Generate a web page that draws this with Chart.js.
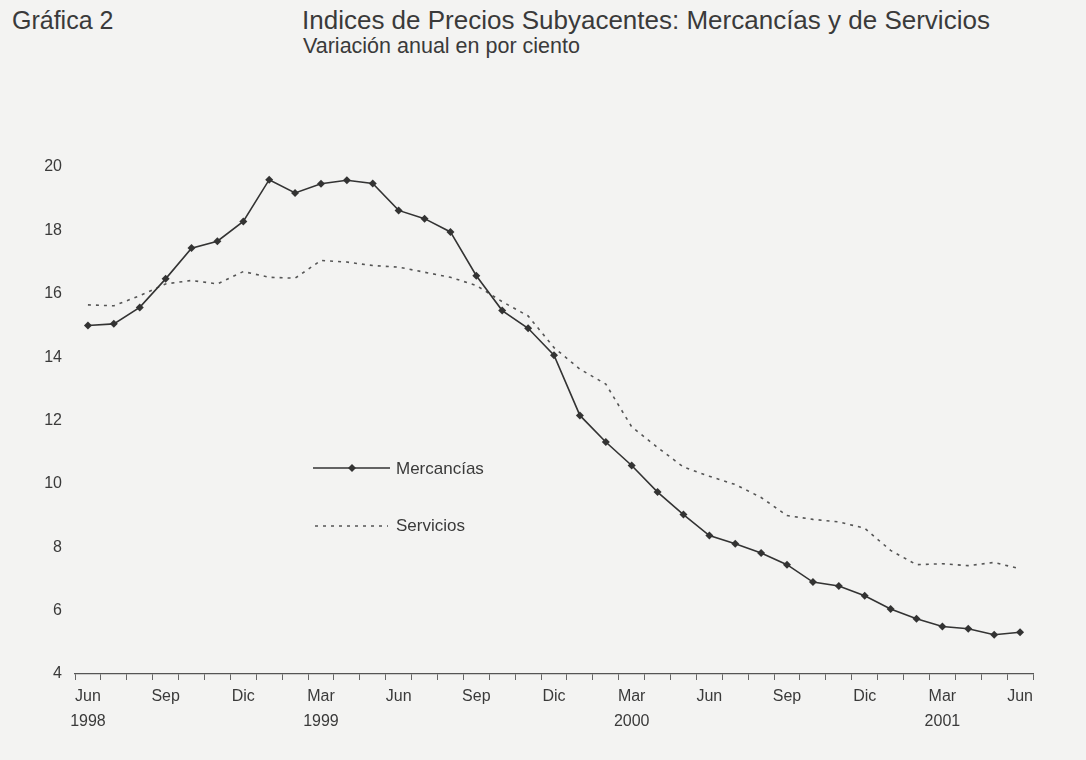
<!DOCTYPE html>
<html>
<head>
<meta charset="utf-8">
<script src="https://cdn.jsdelivr.net/npm/chart.js@4.4.1/dist/chart.umd.min.js"></script>
<style>
  html, body { margin: 0; padding: 0; background: #f3f3f2; }
  #wrap { position: relative; width: 1086px; height: 760px; overflow: hidden; background: #f3f3f2; }
  canvas { position: absolute; left: 0; top: 0; }
  .t { position: absolute; white-space: nowrap; color: #3a3a3a; font-family: "Liberation Sans", Arial, sans-serif; line-height: 1; }
</style>
</head>
<body>
<div id="wrap">
  <div class="t" id="g2" style="left:12px; top:8px; font-size:25px;">Gráfica 2</div>
  <div class="t" id="tt" style="left:302px; top:7px; font-size:26px;">Indices de Precios Subyacentes: Mercancías y de Servicios</div>
  <div class="t" id="st" style="left:303px; top:36px; font-size:21.5px;">Variación anual en por ciento</div>
  <canvas id="c" width="1086" height="760"></canvas>
</div>
<script>
// Categories: monthly, Jun 1998 – Jun 2001
const categories = [
  'Jun 1998','Jul 1998','Ago 1998','Sep 1998','Oct 1998','Nov 1998','Dic 1998',
  'Ene 1999','Feb 1999','Mar 1999','Abr 1999','May 1999','Jun 1999','Jul 1999','Ago 1999','Sep 1999','Oct 1999','Nov 1999','Dic 1999',
  'Ene 2000','Feb 2000','Mar 2000','Abr 2000','May 2000','Jun 2000','Jul 2000','Ago 2000','Sep 2000','Oct 2000','Nov 2000','Dic 2000',
  'Ene 2001','Feb 2001','Mar 2001','Abr 2001','May 2001','Jun 2001'
];
// Series values (annual % change)
const mercancias = [15.0, 15.05, 15.57, 16.47, 17.44, 17.66, 18.28, 19.6, 19.18, 19.47, 19.58, 19.48,
  18.63, 18.37, 17.95, 16.57, 15.47, 14.91, 14.06, 12.16, 11.32, 10.58, 9.74, 9.03, 8.37, 8.11,
  7.82, 7.45, 6.9, 6.78, 6.47, 6.05, 5.74, 5.5, 5.43, 5.24, 5.32];
const servicios = [15.65, 15.62, 15.94, 16.31, 16.42, 16.31, 16.7, 16.52, 16.49, 17.05, 17.0, 16.89,
  16.84, 16.68, 16.52, 16.26, 15.75, 15.3, 14.3, 13.62, 13.15, 11.8, 11.15, 10.53, 10.24, 9.98,
  9.57, 9.0, 8.88, 8.8, 8.6, 7.9, 7.45, 7.48, 7.42, 7.52, 7.32];
// Tick labels
const shownMonths = ['Jun', 'Sep', 'Dic', 'Mar'];
const yearMonths = ['Mar'];
const seriesNames = ['Mercancías', 'Servicios'];
const yTicks = { min: 4, max: 20, step: 2 };

const FONT = '"Liberation Sans", Arial, sans-serif';
const INK = '#333333';

const legendPlugin = {
  id: 'innerLegend',
  afterDraw(chart) {
    const ctx = chart.ctx;
    ctx.save();
    ctx.font = '17px ' + FONT;
    ctx.textBaseline = 'middle';
    // Mercancías
    ctx.strokeStyle = INK; ctx.lineWidth = 1.6; ctx.setLineDash([]);
    ctx.beginPath(); ctx.moveTo(313, 468); ctx.lineTo(390, 468); ctx.stroke();
    ctx.fillStyle = INK;
    ctx.beginPath(); ctx.moveTo(352, 464); ctx.lineTo(356, 468); ctx.lineTo(352, 472); ctx.lineTo(348, 468); ctx.closePath(); ctx.fill();
    ctx.fillStyle = '#3a3a3a';
    ctx.fillText(seriesNames[0], 396, 469);
    // Servicios
    ctx.strokeStyle = '#555'; ctx.lineWidth = 1.6; ctx.setLineDash([3, 5]);
    ctx.beginPath(); ctx.moveTo(315, 526); ctx.lineTo(388, 526); ctx.stroke();
    ctx.setLineDash([]);
    ctx.fillText(seriesNames[1], 396, 526);
    ctx.restore();
  }
};

new Chart(document.getElementById('c'), {
  type: 'line',
  data: {
    labels: categories,
    datasets: [
      {
        label: seriesNames[0], data: mercancias,
        borderColor: INK, backgroundColor: INK, borderWidth: 1.6, tension: 0,
        pointStyle: 'rectRot', pointRadius: 4, pointBackgroundColor: INK, pointBorderColor: INK, pointBorderWidth: 0
      },
      {
        label: seriesNames[1], data: servicios,
        borderColor: '#555555', borderWidth: 1.6, borderDash: [3, 5], tension: 0, pointRadius: 0
      }
    ]
  },
  plugins: [legendPlugin],
  options: {
    responsive: false,
    animation: false,
    events: [],
    layout: { padding: { top: 167, right: 53, bottom: 0, left: 0 } },
    plugins: { legend: { display: false }, title: { display: false }, tooltip: { enabled: false } },
    scales: {
      x: {
        offset: true,
        afterFit(s) { s.height = 86; },
        border: { display: true, color: '#555', width: 1.3 },
        grid: { display: true, drawOnChartArea: false, drawTicks: true, tickLength: 6, color: '#666', offset: true },
        ticks: {
          autoSkip: false, maxRotation: 0, padding: 4, color: '#3a3a3a',
          font: { family: FONT, size: 16, lineHeight: 1.55 },
          callback(v, i) {
            const parts = categories[i].split(' ');
            if (!shownMonths.includes(parts[0])) return '';
            const yr = (i === 0 || yearMonths.includes(parts[0])) ? parts[1] : '';
            return [parts[0], yr];
          }
        }
      },
      y: {
        min: yTicks.min, max: yTicks.max,
        afterFit(s) { s.width = 75; },
        border: { display: false },
        grid: { display: false, drawTicks: false },
        ticks: { stepSize: yTicks.step, padding: 13, color: '#3a3a3a', font: { family: FONT, size: 16 } }
      }
    }
  }
});
</script>
</body>
</html>
